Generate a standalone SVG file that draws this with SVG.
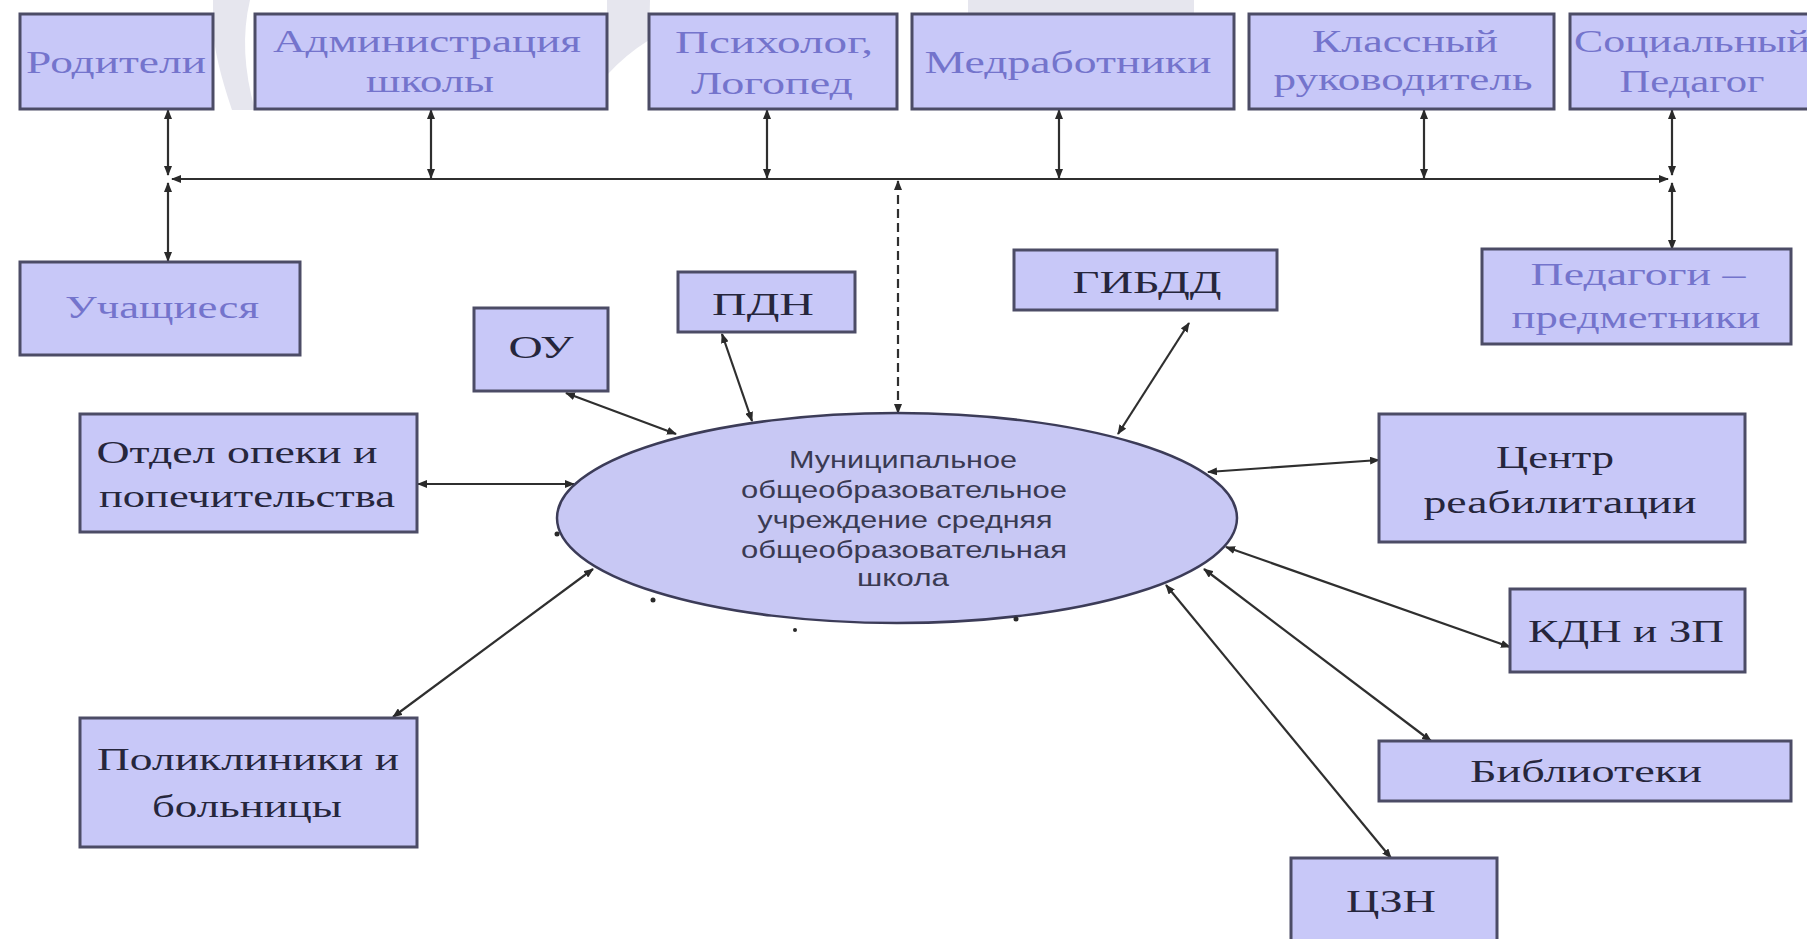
<svg xmlns="http://www.w3.org/2000/svg" width="1807" height="939" viewBox="0 0 1807 939">
<defs>
<marker id="ah" viewBox="0 0 10 8" refX="9" refY="4" markerWidth="10" markerHeight="8" markerUnits="userSpaceOnUse" orient="auto-start-reverse">
<path d="M0,0 L10,4 L0,8 z" fill="#2a2a2a"/>
</marker>
</defs>
<style>
.box{fill:#c8c8f8;stroke:#4c4c66;stroke-width:3}
.ell{fill:#c8c8f4;stroke:#3c3c58;stroke-width:2.5}
.lt{font-family:"Liberation Serif","DejaVu Serif",serif;font-size:32px;fill:#7474cc;text-anchor:middle}
.dk{font-family:"Liberation Serif","DejaVu Serif",serif;font-size:32px;fill:#26263c;text-anchor:middle}
.et{font-family:"Liberation Sans",Arial,sans-serif;font-size:23px;fill:#3a3a52;text-anchor:middle}
.cn{stroke:#2f2f2f;stroke-width:2.2;fill:none;marker-start:url(#ah);marker-end:url(#ah)}
.dash{stroke-dasharray:9 5}
.wm{fill:#e6e6ee}
</style>
<rect width="1807" height="939" fill="#ffffff"/>
<g id="watermark">
<path class="wm" d="M213,0 L250,0 Q238,50 255,110 L232,110 Q215,60 213,30 Z"/>
<path class="wm" d="M607,0 L650,0 L649,40 Q625,55 607,75 Z"/>
<rect class="wm" x="968" y="0" width="226" height="14"/>
</g>
<g id="connectors">
<line class="cn" x1="168" y1="110" x2="168" y2="175"/>
<line class="cn" x1="168" y1="183" x2="168" y2="261"/>
<line class="cn" x1="172" y1="179" x2="1668" y2="179"/>
<line class="cn" x1="431" y1="110" x2="431" y2="178"/>
<line class="cn" x1="767" y1="110" x2="767" y2="178"/>
<line class="cn" x1="1059" y1="110" x2="1059" y2="178"/>
<line class="cn" x1="1424" y1="110" x2="1424" y2="178"/>
<line class="cn" x1="1672" y1="110" x2="1672" y2="175"/>
<line class="cn" x1="1672" y1="183" x2="1672" y2="249"/>
<line class="cn dash" x1="898" y1="181" x2="898" y2="413"/>
<line class="cn" x1="566" y1="393" x2="676" y2="434"/>
<line class="cn" x1="722" y1="334" x2="752" y2="421"/>
<line class="cn" x1="1189" y1="323" x2="1118" y2="434"/>
<line class="cn" x1="418" y1="484" x2="574" y2="484"/>
<line class="cn" x1="1379" y1="460" x2="1208" y2="472"/>
<line class="cn" x1="1510" y1="647" x2="1226" y2="547"/>
<line class="cn" x1="1431" y1="741" x2="1204" y2="569"/>
<line class="cn" x1="1391" y1="858" x2="1166" y2="585"/>
<line class="cn" x1="393" y1="717" x2="593" y2="569"/>
</g>
<g id="n-roditeli"><rect class="box" x="20" y="14" width="193" height="95"/><text class="lt" x="116" y="73" textLength="180" lengthAdjust="spacingAndGlyphs">Родители</text></g>
<g id="n-admin"><rect class="box" x="255" y="14" width="352" height="95"/><text class="lt" x="427" y="52" textLength="308" lengthAdjust="spacingAndGlyphs">Администрация</text><text class="lt" x="430" y="92" textLength="128" lengthAdjust="spacingAndGlyphs">школы</text></g>
<g id="n-psych"><rect class="box" x="649" y="14" width="248" height="95"/><text class="lt" x="774" y="53" textLength="198" lengthAdjust="spacingAndGlyphs">Психолог,</text><text class="lt" x="772" y="94" textLength="162" lengthAdjust="spacingAndGlyphs">Логопед</text></g>
<g id="n-med"><rect class="box" x="912" y="14" width="322" height="95"/><text class="lt" x="1068" y="73" textLength="287" lengthAdjust="spacingAndGlyphs">Медработники</text></g>
<g id="n-klass"><rect class="box" x="1249" y="14" width="305" height="95"/><text class="lt" x="1405" y="52" textLength="186" lengthAdjust="spacingAndGlyphs">Классный</text><text class="lt" x="1403" y="90" textLength="259" lengthAdjust="spacingAndGlyphs">руководитель</text></g>
<g id="n-social"><rect class="box" x="1570" y="14" width="260" height="95"/><text class="lt" x="1692" y="52" textLength="236" lengthAdjust="spacingAndGlyphs">Социальный</text><text class="lt" x="1692" y="92" textLength="145" lengthAdjust="spacingAndGlyphs">Педагог</text></g>
<g id="n-uchash"><rect class="box" x="20" y="262" width="280" height="93"/><text class="lt" x="162" y="318" textLength="194" lengthAdjust="spacingAndGlyphs">Учащиеся</text></g>
<g id="n-predm"><rect class="box" x="1482" y="249" width="309" height="95"/><text class="lt" x="1638" y="285" textLength="215" lengthAdjust="spacingAndGlyphs">Педагоги –</text><text class="lt" x="1636" y="328" textLength="249" lengthAdjust="spacingAndGlyphs">предметники</text></g>
<g id="n-ou"><rect class="box" x="474" y="308" width="134" height="83"/><text class="dk" x="541" y="358" textLength="65" lengthAdjust="spacingAndGlyphs">ОУ</text></g>
<g id="n-pdn"><rect class="box" x="678" y="272" width="177" height="60"/><text class="dk" x="763" y="315" textLength="102" lengthAdjust="spacingAndGlyphs">ПДН</text></g>
<g id="n-gibdd"><rect class="box" x="1014" y="250" width="263" height="60"/><text class="dk" x="1147" y="293" textLength="149" lengthAdjust="spacingAndGlyphs">ГИБДД</text></g>
<g id="n-opeka"><rect class="box" x="80" y="414" width="337" height="118"/><text class="dk" x="237" y="463" textLength="281" lengthAdjust="spacingAndGlyphs">Отдел опеки и</text><text class="dk" x="247" y="507" textLength="296" lengthAdjust="spacingAndGlyphs">попечительства</text></g>
<g id="n-school"><ellipse class="ell" cx="897" cy="518" rx="340" ry="105"/>
<text class="et" x="903" y="468" textLength="228" lengthAdjust="spacingAndGlyphs">Муниципальное</text>
<text class="et" x="904" y="498" textLength="326" lengthAdjust="spacingAndGlyphs">общеобразовательное</text>
<text class="et" x="905" y="528" textLength="295" lengthAdjust="spacingAndGlyphs">учреждение средняя</text>
<text class="et" x="904" y="558" textLength="326" lengthAdjust="spacingAndGlyphs">общеобразовательная</text>
<text class="et" x="903" y="586" textLength="92" lengthAdjust="spacingAndGlyphs">школа</text></g>
<g id="n-centr"><rect class="box" x="1379" y="414" width="366" height="128"/><text class="dk" x="1555" y="468" textLength="118" lengthAdjust="spacingAndGlyphs">Центр</text><text class="dk" x="1560" y="513" textLength="273" lengthAdjust="spacingAndGlyphs">реабилитации</text></g>
<g id="n-kdn"><rect class="box" x="1510" y="589" width="235" height="83"/><text class="dk" x="1626" y="642" textLength="196" lengthAdjust="spacingAndGlyphs">КДН и ЗП</text></g>
<g id="n-bibl"><rect class="box" x="1379" y="741" width="412" height="60"/><text class="dk" x="1586" y="782" textLength="232" lengthAdjust="spacingAndGlyphs">Библиотеки</text></g>
<g id="n-czn"><rect class="box" x="1291" y="858" width="206" height="95"/><text class="dk" x="1391" y="912" textLength="90" lengthAdjust="spacingAndGlyphs">ЦЗН</text></g>
<g id="n-poli"><rect class="box" x="80" y="718" width="337" height="129"/><text class="dk" x="248" y="770" textLength="302" lengthAdjust="spacingAndGlyphs">Поликлиники и</text><text class="dk" x="247" y="817" textLength="190" lengthAdjust="spacingAndGlyphs">больницы</text></g>
<g id="marks" fill="#2a2a2a">
<circle cx="557" cy="534" r="2.5"/>
<circle cx="653" cy="600" r="2.5"/>
<circle cx="795" cy="630" r="2"/>
<circle cx="1016" cy="619" r="2.5"/>
</g>
</svg>
